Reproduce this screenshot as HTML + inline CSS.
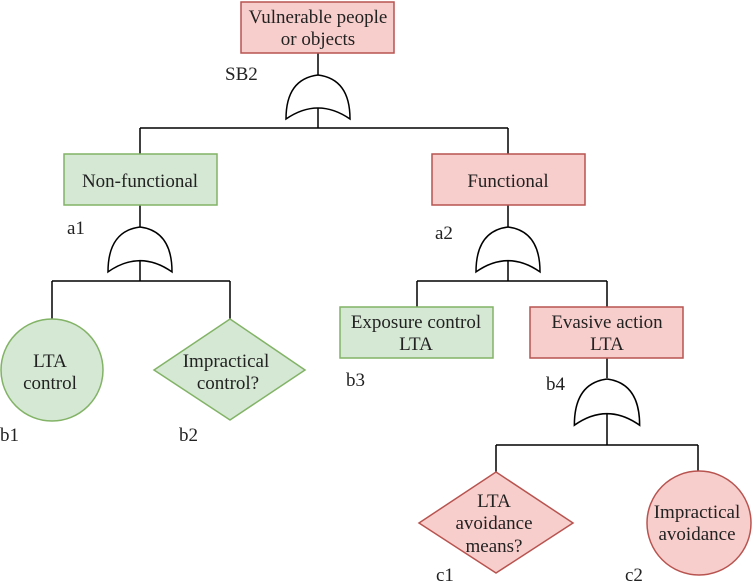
<!DOCTYPE html>
<html><head><meta charset="utf-8"><style>
html,body{margin:0;padding:0;background:#fff;}
svg{display:block;}
svg text{font-family:"Liberation Serif","Times New Roman","DejaVu Serif",serif;font-size:19px;fill:#222;}
</style></head><body>
<svg width="752" height="582" viewBox="0 0 752 582" xmlns="http://www.w3.org/2000/svg">
<defs>
<path id="g" d="M-32,44 Q-32,4 0,0 Q32,4 32,44 Q0,22 -32,44 Z" fill="#fff" stroke="#000" stroke-width="1.5"/>
</defs>
<g stroke="#000" stroke-width="1.5" fill="none">
<line x1="318" y1="53" x2="318" y2="75"/>
<line x1="318" y1="108" x2="318" y2="128"/>
<line x1="140" y1="128" x2="508" y2="128"/>
<line x1="140" y1="128" x2="140" y2="154"/>
<line x1="508" y1="128" x2="508" y2="154"/>
<line x1="140" y1="205" x2="140" y2="227"/>
<line x1="140" y1="260" x2="140" y2="281"/>
<line x1="52" y1="281" x2="230" y2="281"/>
<line x1="52" y1="281" x2="52" y2="319"/>
<line x1="230" y1="281" x2="230" y2="319"/>
<line x1="508" y1="205" x2="508" y2="227"/>
<line x1="508" y1="260" x2="508" y2="281"/>
<line x1="417" y1="281" x2="607" y2="281"/>
<line x1="417" y1="281" x2="417" y2="307"/>
<line x1="607" y1="281" x2="607" y2="307"/>
<line x1="607" y1="358" x2="607" y2="378"/>
<line x1="607" y1="411" x2="607" y2="445"/>
<line x1="496" y1="445" x2="698" y2="445"/>
<line x1="496" y1="445" x2="496" y2="472"/>
<line x1="698" y1="445" x2="698" y2="472"/>
</g>
<use href="#g" transform="translate(318,75)"/>
<use href="#g" transform="translate(140,227) scale(1,1.02)"/>
<use href="#g" transform="translate(508,227) scale(1,1.02)"/>
<use href="#g" transform="translate(607,379) scale(1.02,1.05)"/>

<rect x="241" y="2" width="153" height="51" fill="#f8cecc" stroke="#b85450" stroke-width="1.5"/>
<rect x="64" y="154" width="153" height="51" fill="#d5e8d4" stroke="#82b366" stroke-width="1.5"/>
<rect x="432" y="154" width="153" height="51" fill="#f8cecc" stroke="#b85450" stroke-width="1.5"/>
<circle cx="52" cy="370" r="51" fill="#d5e8d4" stroke="#82b366" stroke-width="1.5"/>
<polygon points="230,319 305,370 230,420 154,370" fill="#d5e8d4" stroke="#82b366" stroke-width="1.5"/>
<rect x="340" y="307" width="153" height="51" fill="#d5e8d4" stroke="#82b366" stroke-width="1.5"/>
<rect x="530" y="307" width="153" height="51" fill="#f8cecc" stroke="#b85450" stroke-width="1.5"/>
<polygon points="496,472 573,523 496,573 419,523" fill="#f8cecc" stroke="#b85450" stroke-width="1.5"/>
<circle cx="699" cy="523" r="52" fill="#f8cecc" stroke="#b85450" stroke-width="1.5"/>

<g font-family="Liberation Serif, serif" font-size="19">
<text x="318" y="23" text-anchor="middle">Vulnerable people</text>
<text x="318" y="45" text-anchor="middle">or objects</text>
<text x="225" y="80">SB2</text>
<text x="140" y="187" text-anchor="middle">Non-functional</text>
<text x="508" y="187" text-anchor="middle">Functional</text>
<text x="67" y="234">a1</text>
<text x="435" y="239">a2</text>
<text x="50" y="367" text-anchor="middle">LTA</text>
<text x="50" y="389" text-anchor="middle">control</text>
<text x="226" y="367" text-anchor="middle">Impractical</text>
<text x="228" y="389" text-anchor="middle">control?</text>
<text x="0" y="441">b1</text>
<text x="179" y="441">b2</text>
<text x="416" y="328" text-anchor="middle">Exposure control</text>
<text x="416" y="350" text-anchor="middle">LTA</text>
<text x="607" y="328" text-anchor="middle">Evasive action</text>
<text x="607" y="350" text-anchor="middle">LTA</text>
<text x="346" y="386">b3</text>
<text x="546" y="390">b4</text>
<text x="494" y="507" text-anchor="middle">LTA</text>
<text x="494" y="529" text-anchor="middle">avoidance</text>
<text x="494" y="552" text-anchor="middle">means?</text>
<text x="697" y="518" text-anchor="middle">Impractical</text>
<text x="697" y="540" text-anchor="middle">avoidance</text>
<text x="436" y="581">c1</text>
<text x="625" y="581">c2</text>
</g>
</svg>
</body></html>
